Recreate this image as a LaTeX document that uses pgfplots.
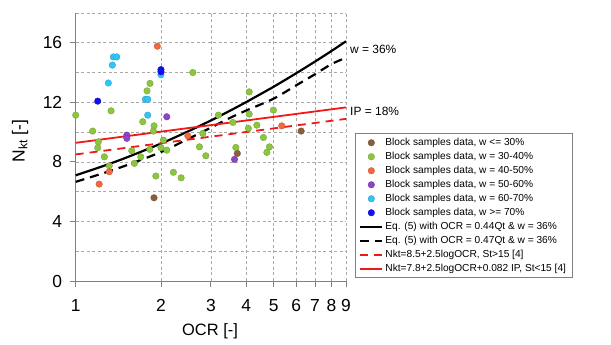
\documentclass[border=0pt]{standalone}
\usepackage{fontspec}
\setmainfont{Liberation Sans}
\usepackage{pgfplots}
\pgfplotsset{compat=1.18}
\definecolor{cbrown}{HTML}{8B5E3C}
\definecolor{cgreen}{HTML}{8CC63F}
\definecolor{corange}{HTML}{F26A3C}
\definecolor{cpurple}{HTML}{8E44C8}
\definecolor{ccyan}{HTML}{30C5F2}
\definecolor{cblue}{HTML}{1010F0}
\definecolor{cred}{HTML}{F01818}
\definecolor{gridgray}{HTML}{A8A8A8}

\begin{document}
\begin{tikzpicture}
\begin{axis}[
    set layers,
    scale only axis,
    width=270.3bp, height=268bp,
    xmode=log,
    xmin=1, xmax=9,
    ymin=0, ymax=18,
    clip=false,
    axis lines*=left,
    axis line style={-, draw=gray, line width=0.8bp},
    xtick={1,2,3,4,5,6,7,8,9},
    xticklabels={1,2,3,4,5,6,7,8,9},
    minor xtick={},
    ytick={0,4,8,12,16},
    yticklabels={0,4,8,12,16},
    minor ytick={2,6,10,14,18},
    grid=both,
    grid style={draw=gridgray, line width=0.6bp, dash pattern=on 3bp off 2.5bp},
    minor grid style={draw=gridgray, line width=0.6bp, dash pattern=on 3bp off 2.5bp},
    tick align=outside,
    major tick length=6bp,
    minor tick length=0pt,
    tick style={draw=gray, line width=0.8bp},
    tick label style={font=\fontsize{17.5}{19}\selectfont},
    xticklabel style={yshift=-9bp},
    yticklabel style={xshift=-4bp},
    xlabel={OCR [-]},
    ylabel={N\textsubscript{kt} [-]},
    every axis x label/.style={at={(axis description cs:0.497,-0.187)}, anchor=center,
        font=\fontsize{16.5}{19}\selectfont},
    every axis y label/.style={at={(axis description cs:-0.206,0.522)}, anchor=center, rotate=90,
        font=\fontsize{17.5}{19}\selectfont},
    legend image code/.code={\draw[mark repeat=2,mark phase=2,#1] plot coordinates {(0bp,0bp) (11bp,0bp) (22bp,0bp)};},
    legend style={
        at={(axis description cs:1.033,0.011)}, anchor=south west,
        draw=gray, line width=0.6bp,
        font=\fontsize{10.2}{12}\selectfont,
        inner xsep=4bp, inner ysep=2bp,
        row sep=0pt,
        nodes={inner sep=2bp, text height=7.5bp, text depth=2.5bp},
        cells={anchor=west},
    },
    scat/.style={only marks, mark=*, mark size=3.3bp,
        mark options={draw=#1!80!black, fill=#1, line width=0.3bp}},
]

\addplot[scat=cbrown] coordinates {
    (1.89,5.59) (3.72,8.57) (6.25,10.07)
};
\addlegendentry{Block samples data, w <= 30\%}

\addplot[scat=cgreen] coordinates {
    (1.0,11.14) (1.148,10.07) (1.202,9.35) (1.196,8.95) (1.262,8.34)
    (1.314,7.74) (1.333,11.43) (1.577,8.75) (1.611,7.9) (1.697,8.34)
    (1.725,10.7) (1.786,12.77) (1.83,13.27) (1.826,8.84) (1.891,10.42)
    (1.88,10.07) (2.0,8.95) (2.04,9.46) (2.097,8.79) (1.918,7.05)
    (2.213,7.3) (2.356,6.93) (2.591,14.0) (2.81,9.91) (2.734,9.01)
    (2.88,8.41) (3.19,11.14) (3.588,10.65) (3.676,8.97) (4.097,12.7)
    (4.097,11.21) (4.07,10.25) (4.36,10.47) (4.6,9.64) (4.83,9.01)
    (4.73,8.64) (4.99,11.48)
};
\addlegendentry{Block samples data, w = 30-40\%}

\addplot[scat=corange] coordinates {
    (1.314,7.34) (1.21,6.51) (1.942,15.77) (2.488,9.75) (5.34,10.42)
};
\addlegendentry{Block samples data, w = 40-50\%}

\addplot[scat=cpurple] coordinates {
    (1.515,9.8) (1.515,9.58) (2.097,11.03) (3.636,8.17)
};
\addlegendentry{Block samples data, w = 50-60\%}

\addplot[scat=ccyan] coordinates {
    (1.358,15.05) (1.396,15.05) (1.347,14.5) (1.304,13.3)
    (1.762,12.2) (1.796,12.2) (1.796,11.14) (2.0,13.85)
};
\addlegendentry{Block samples data, w = 60-70\%}

\addplot[scat=cblue] coordinates {
    (1.196,12.08) (2.0,14.2) (2.0,14.05)
};
\addlegendentry{Block samples data, w >= 70\%}

% Eq. (5) curves
\addplot[on layer=pre main, black, line width=2.2bp, smooth, no markers] coordinates {
    (1,7.10) (1.25,7.72) (1.5,8.27) (2,9.23) (2.5,10.06) (3,10.78)
    (3.5,11.43) (4,12.02) (5,13.05) (6,13.95) (7,14.74) (8,15.45) (9,16.10)
};
\addlegendentry{Eq. (5) with OCR = 0.44Qt \& w = 36\%}

\addplot[on layer=pre main, black, line width=2.2bp, smooth, no markers, dash pattern=on 9bp off 6bp] coordinates {
    (1,6.66) (1.25,7.24) (1.5,7.75) (2,8.66) (2.5,9.55) (3,10.3)
    (3.5,10.95) (4,11.45) (5,12.25) (6,13.14) (7,13.89) (8,14.57) (9,15.0)
};
\addlegendentry{Eq. (5) with OCR = 0.47Qt \& w = 36\%}

% literature correlations
\addplot[on layer=pre main, cred, line width=1.8bp, no markers, dash pattern=on 8bp off 6bp] coordinates {
    (1,8.5) (9,10.89)
};
\addlegendentry{Nkt=8.5+2.5logOCR, St>15 [4]}

\addplot[on layer=pre main, cred, line width=1.8bp, no markers] coordinates {
    (1,9.28) (9,11.66)
};
\addlegendentry{Nkt=7.8+2.5logOCR+0.082 IP, St<15 [4]}

\node[anchor=west, font=\fontsize{12}{14}\selectfont, inner sep=0pt] at (axis cs:9,15.55) {\hspace{4bp}w = 36\%};
\node[anchor=west, font=\fontsize{12}{14}\selectfont, inner sep=0pt] at (axis cs:9,11.36) {\hspace{4bp}IP = 18\%};
\end{axis}
\pgfresetboundingbox
\path[use as bounding box] (current axis.south west) ++(-75.7bp,-64bp) rectangle ++(611bp,345bp);
\end{tikzpicture}
\end{document}
